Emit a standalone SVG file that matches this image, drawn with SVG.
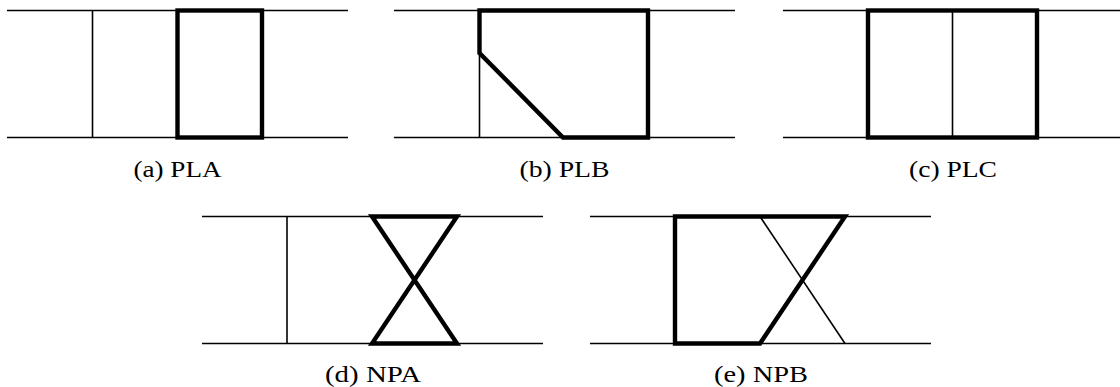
<svg xmlns="http://www.w3.org/2000/svg" width="1120" height="387" viewBox="0 0 1120 387">
<style>
.thin{stroke:#000;stroke-width:1.6;fill:none}
.thick{stroke:#000;stroke-width:4.4;fill:none;stroke-linejoin:miter}
.lbl{font-family:"Liberation Serif","Times New Roman",serif;font-size:24px;fill:#000;text-anchor:middle}
</style>
<rect width="1120" height="387" fill="#fff"/>
<g id="panel-a">
<line class="thin" x1="7" y1="10.5" x2="348" y2="10.5"/>
<line class="thin" x1="7" y1="137.5" x2="348" y2="137.5"/>
<line class="thin" x1="92.5" y1="10.5" x2="92.5" y2="137.5"/>
<rect class="thick" x="177.5" y="10.5" width="84.5" height="127"/>
<text class="lbl" x="177.5" y="177" textLength="88" lengthAdjust="spacingAndGlyphs">(a) PLA</text>
</g>
<g id="panel-b">
<line class="thin" x1="394" y1="10.5" x2="735" y2="10.5"/>
<line class="thin" x1="394" y1="137.5" x2="735" y2="137.5"/>
<line class="thin" x1="479.5" y1="53" x2="479.5" y2="137.5"/>
<polygon class="thick" points="479.5,10.5 648,10.5 648,137.5 563,137.5 479.5,53"/>
<text class="lbl" x="564.5" y="177" textLength="90" lengthAdjust="spacingAndGlyphs">(b) PLB</text>
</g>
<g id="panel-c">
<line class="thin" x1="783" y1="10.5" x2="1124" y2="10.5"/>
<line class="thin" x1="783" y1="137.5" x2="1124" y2="137.5"/>
<line class="thin" x1="952.5" y1="10.5" x2="952.5" y2="137.5"/>
<rect class="thick" x="868" y="10.5" width="169" height="127"/>
<text class="lbl" x="953" y="177" textLength="88" lengthAdjust="spacingAndGlyphs">(c) PLC</text>
</g>
<g id="panel-d">
<line class="thin" x1="202" y1="216.5" x2="543" y2="216.5"/>
<line class="thin" x1="202" y1="343.5" x2="543" y2="343.5"/>
<line class="thin" x1="287" y1="216.5" x2="287" y2="343.5"/>
<polygon class="thick" points="372,216.5 457,216.5 372,343.5 457,343.5"/>
<text class="lbl" x="373" y="382" textLength="96" lengthAdjust="spacingAndGlyphs">(d) NPA</text>
</g>
<g id="panel-e">
<line class="thin" x1="590" y1="216.5" x2="931" y2="216.5"/>
<line class="thin" x1="590" y1="343.5" x2="931" y2="343.5"/>
<line class="thin" x1="760" y1="216.5" x2="845" y2="343.5"/>
<polygon class="thick" points="675,216.5 845,216.5 760,343.5 675,343.5"/>
<text class="lbl" x="761" y="382" textLength="94" lengthAdjust="spacingAndGlyphs">(e) NPB</text>
</g>
</svg>
